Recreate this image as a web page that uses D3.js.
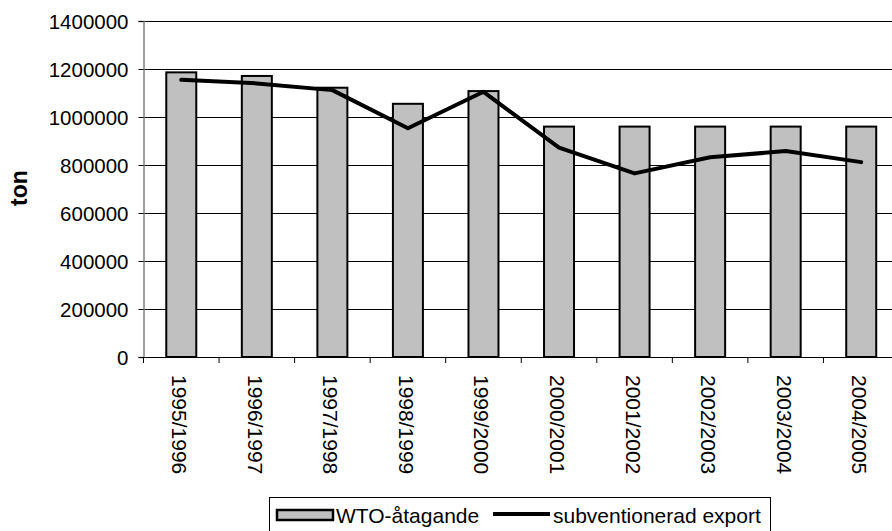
<!DOCTYPE html>
<html><head><meta charset="utf-8">
<script src="https://cdn.jsdelivr.net/npm/d3@7"></script>
<style>body{margin:0;background:#fff}svg{display:block}text{font-family:"Liberation Sans",Arial,sans-serif}</style>
</head><body>
<svg id="c" width="892" height="531"></svg>
<script>
const categories = ["1995/1996","1996/1997","1997/1998","1998/1999","1999/2000","2000/2001","2001/2002","2002/2003","2003/2004","2004/2005"];
const wtoValues = [1186000,1171000,1122000,1055000,1108000,960000,960000,960000,960000,960000];
const exportValues = [1155000,1140000,1112000,953000,1105000,872000,765000,832000,858000,812000];
const yTicks = [0,200000,400000,600000,800000,1000000,1200000,1400000];
const seriesNames = ["WTO-åtagande","subventionerad export"];

(function(){
const svg = d3.select("#c");
const pL = 143.5, pT = 21, pB = 357, pR = 899;
const x = d3.scaleBand().domain(categories).range([pL, pR]).padding(0);
const y = d3.scaleLinear().domain([0,1400000]).range([pB, pT]);

// gridlines
svg.append("g").selectAll("line").data(yTicks.slice(1)).join("line")
  .attr("x1", pL).attr("x2", 892)
  .attr("y1", d => Math.round(y(d))+0.5).attr("y2", d => Math.round(y(d))+0.5)
  .attr("stroke","#000").attr("stroke-width",1);

// bars
const bw = 30;
svg.append("g").selectAll("rect").data(categories).join("rect")
  .attr("x", (d,i) => x(d) + x.bandwidth()/2 - bw/2)
  .attr("y", (d,i) => y(wtoValues[i]))
  .attr("width", bw)
  .attr("height", (d,i) => y(0) - y(wtoValues[i]))
  .attr("fill","#c0c0c0").attr("stroke","#000").attr("stroke-width",2);

// y axis
const yAxis = svg.append("g").attr("transform",`translate(${pL},0)`)
  .call(d3.axisLeft(y).tickValues(yTicks).tickSize(5).tickPadding(10).tickFormat(d3.format("d")));
yAxis.select(".domain").attr("stroke","#808080").attr("stroke-width",1.5);
yAxis.selectAll(".tick line").attr("stroke","#000");
yAxis.selectAll(".tick text").attr("font-size",20.5).attr("fill","#000")
  .attr("font-family","Liberation Sans, Arial, sans-serif").attr("dy","0.35em");

// x axis
const xAxis = svg.append("g").attr("transform",`translate(0,${pB})`)
  .call(d3.axisBottom(x).tickSize(0).tickFormat(""));
xAxis.select(".domain").attr("stroke","#000").attr("stroke-width",1);
svg.append("g").selectAll("line").data(categories).join("line")
  .attr("x1", d => x(d)).attr("x2", d => x(d))
  .attr("y1", pB).attr("y2", pB+6).attr("stroke","#000");

// x labels rotated
svg.append("g").selectAll("text").data(categories).join("text")
  .attr("transform", d => `translate(${x(d)+x.bandwidth()/2-9},375) rotate(90)`)
  .attr("font-size",21).attr("fill","#000")
  .attr("text-anchor","start")
  .text(d => d);

// line
const line = d3.line().x((d,i) => x(categories[i]) + x.bandwidth()/2).y(d => y(d));
svg.append("path").datum(exportValues).attr("d", line)
  .attr("fill","none").attr("stroke","#000").attr("stroke-width",4)
  .attr("stroke-linejoin","round").attr("stroke-linecap","round");

// y title
svg.append("text").attr("transform","translate(27,188) rotate(-90)")
  .attr("text-anchor","middle").attr("font-size",23).attr("font-weight","bold").text("ton");

// legend
const lg = svg.append("g");
lg.append("rect").attr("x",269.5).attr("y",497.5).attr("width",501).attr("height",45)
  .attr("fill","#fff").attr("stroke","#000").attr("stroke-width",1);
lg.append("rect").attr("x",277).attr("y",510).attr("width",56).attr("height",10)
  .attr("fill","#c0c0c0").attr("stroke","#000").attr("stroke-width",2.5);
lg.append("text").attr("x",336).attr("y",523).attr("font-size",21).text(seriesNames[0]);
lg.append("line").attr("x1",493).attr("x2",550).attr("y1",514).attr("y2",514)
  .attr("stroke","#000").attr("stroke-width",4);
lg.append("text").attr("x",553).attr("y",523).attr("font-size",21).text(seriesNames[1]);
})();
</script>
</body></html>
